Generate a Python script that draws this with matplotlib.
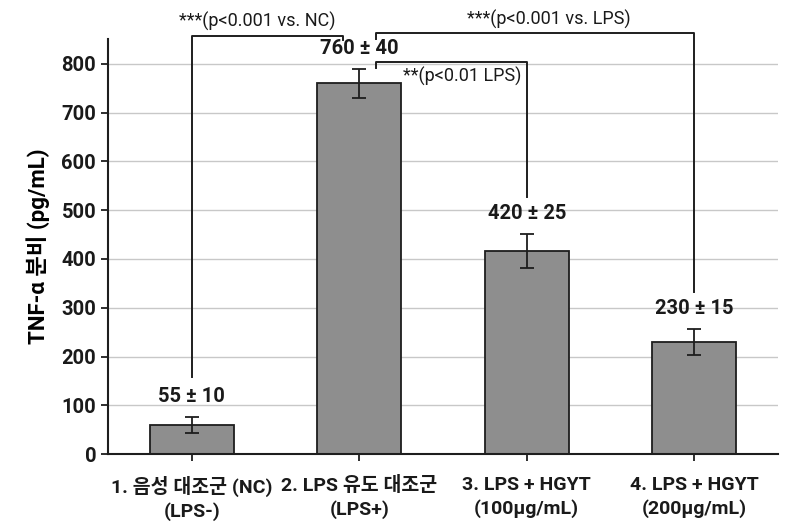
import matplotlib
matplotlib.use("Agg")
import matplotlib.pyplot as plt
import numpy as np

plt.rcParams["font.family"] = ["Roboto", "Noto Sans CJK KR", "DejaVu Sans"]

# data
groups = [
    "1. 음성 대조군 (NC)\n(LPS-)",
    "2. LPS 유도 대조군\n(LPS+)",
    "3. LPS + HGYT\n(100µg/mL)",
    "4. LPS + HGYT\n(200µg/mL)",
]
means = [60, 760, 417, 230]
errs = [16, 30, 35, 26]
value_labels = ["55 ± 10", "760 ± 40", "420 ± 25", "230 ± 15"]
yticks = [0, 100, 200, 300, 400, 500, 600, 700, 800]

# significance brackets: x0, x1, top, left leg end, right leg end
brackets = [
    (0.0, 0.9, 857, 158, 849),
    (1.1, 3.0, 864, 851, 332),
    (1.1, 2.0, 804, 792, 527),
]
sig_texts = ["***(p<0.001 vs. NC)", "***(p<0.001 vs. LPS)", "**(p<0.01 LPS)"]

fig = plt.figure(figsize=(8, 5.25), dpi=100)
ax = fig.add_axes([0.135, 0.135, 0.8375, 0.791])

x = np.arange(len(groups))
ax.bar(x, means, width=0.5, color="#8e8e8e", edgecolor="#1e1e1e", linewidth=1.3, zorder=2)
ax.errorbar(x, means, yerr=errs, fmt="none", ecolor="#1e1e1e", elinewidth=1.3,
            capsize=5, capthick=1.3, zorder=3)

for xi, m, e, lab in zip(x, means, errs, value_labels):
    ax.text(xi, m + e + 42, lab, ha="center", va="center", fontsize=14.5,
            fontweight="bold", color="#1a1a1a")

for x0, x1, top, l_end, r_end in brackets:
    ax.plot([x0, x0, x1, x1], [l_end, top, top, r_end], color="#1e1e1e",
            lw=1.4, clip_on=False, zorder=4)

ax.text(0.39, 886, sig_texts[0], ha="center", va="center", fontsize=13, color="#1a1a1a")
ax.text(2.13, 890, sig_texts[1], ha="center", va="center", fontsize=13, color="#1a1a1a")
ax.text(1.26, 773, sig_texts[2], ha="left", va="center", fontsize=13, color="#1a1a1a")

ax.set_xlim(-0.5, 3.5)
ax.set_ylim(0, 851)
ax.set_yticks(yticks)
ax.set_yticklabels([str(t) for t in yticks], fontsize=14.5, fontweight="bold")
ax.set_xticks(x)
ax.set_xticklabels(groups, fontsize=14, fontweight="bold", linespacing=1.35)
ax.set_ylabel("TNF-α 분비 (pg/mL)", fontsize=16, fontweight="bold", labelpad=8)

ax.yaxis.grid(True, color="#c8c8c8", lw=1, zorder=0)
ax.set_axisbelow(True)
for s in ["top", "right"]:
    ax.spines[s].set_visible(False)
for s in ["left", "bottom"]:
    ax.spines[s].set_linewidth(1.5)
    ax.spines[s].set_color("#1e1e1e")
ax.tick_params(axis="both", length=5, width=1.3, color="#1e1e1e", labelcolor="#1a1a1a")
ax.tick_params(axis="x", pad=11)

fig.savefig("out.png", dpi=100)
